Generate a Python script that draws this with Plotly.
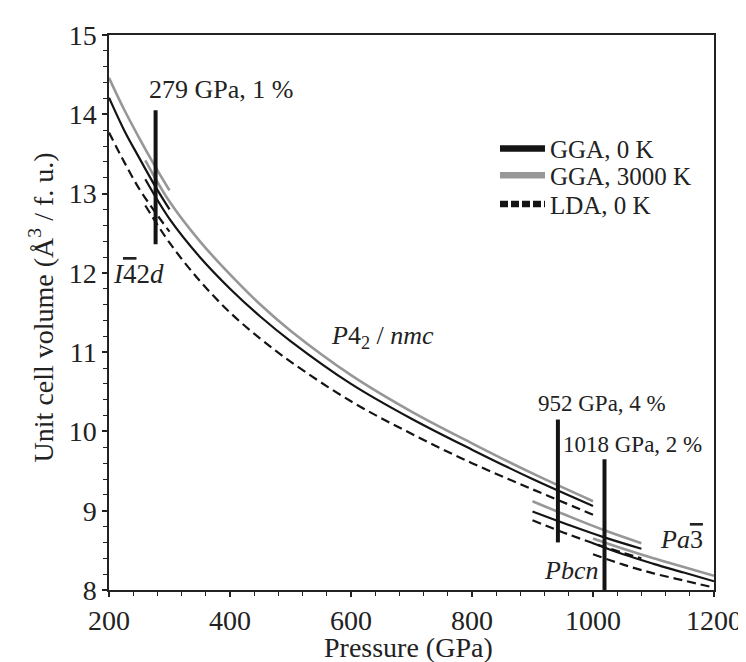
import plotly.graph_objects as go

# --- data (pressure in GPa, volume in A^3 / f.u.) ---
p_i42d = [200, 225, 250, 275, 300]
v_i42d_gga0 = [14.21, 13.80, 13.45, 13.11, 12.80]
v_i42d_gga3000 = [14.46, 14.06, 13.70, 13.36, 13.04]
v_i42d_lda0 = [13.77, 13.40, 13.06, 12.78, 12.52]

p_p42 = [260, 300, 350, 400, 450, 500, 600, 700, 800, 900, 1000]
v_p42_gga0 = [13.18, 12.68, 12.20, 11.80, 11.45, 11.14, 10.60, 10.16, 9.77, 9.40, 9.06]
v_p42_gga3000 = [13.42, 12.90, 12.40, 11.98, 11.60, 11.27, 10.71, 10.25, 9.85, 9.47, 9.12]
v_p42_lda0 = [12.85, 12.38, 11.90, 11.50, 11.17, 10.88, 10.38, 9.97, 9.60, 9.27, 8.95]

p_pbcn = [900, 960, 1020, 1080]
v_pbcn_gga0 = [8.99, 8.82, 8.66, 8.52]
v_pbcn_gga3000 = [9.12, 8.93, 8.75, 8.59]
v_pbcn_lda0 = [8.88, 8.70, 8.54, 8.40]

p_pa3 = [1000, 1050, 1100, 1150, 1200]
v_pa3_gga0 = [8.59, 8.45, 8.33, 8.22, 8.11]
v_pa3_gga3000 = [8.65, 8.52, 8.40, 8.29, 8.18]
v_pa3_lda0 = [8.45, 8.32, 8.21, 8.12, 8.03]

# transition markers: position, bottom, top, label
trans_p = [277, 942, 1019]
trans_vlo = [12.36, 8.60, 8.00]
trans_vhi = [14.05, 10.15, 9.65]
trans_labels = ["279 GPa, 1 %", "952 GPa, 4 %", "1018 GPa, 2 %"]
trans_label_p = [385, 1015, 1066]
trans_label_v = [14.31, 10.35, 9.83]
trans_label_size = [26, 23, 23]

phase_labels = ["<i>I</i><span style='text-decoration:overline'>4</span>2<i>d</i>",
                "<i>P</i>4<sub>2</sub> / <i>nmc</i>",
                "<i>Pbcn</i>",
                "<i>Pa</i><span style='text-decoration:overline'>3</span>"]
phase_p = [200, 652, 964, 1146]
phase_v = [11.98, 11.19, 8.24, 8.64]

series_names = ["GGA, 0 K", "GGA, 3000 K", "LDA, 0 K"]
legend_rows_y = [0.795, 0.747, 0.695]

BLACK = "#141414"
GRAY = "#979797"
TXT = "#222222"
FONT = "Liberation Serif"

styles = [dict(color=BLACK, width=2.2),
          dict(color=GRAY, width=2.6),
          dict(color=BLACK, width=2.2, dash="9px,5px")]

fig = go.Figure()

phases = [
    (p_i42d, [v_i42d_gga0, v_i42d_gga3000, v_i42d_lda0]),
    (p_p42, [v_p42_gga0, v_p42_gga3000, v_p42_lda0]),
    (p_pbcn, [v_pbcn_gga0, v_pbcn_gga3000, v_pbcn_lda0]),
    (p_pa3, [v_pa3_gga0, v_pa3_gga3000, v_pa3_lda0]),
]
for p, vs in phases:
    for i, v in enumerate(vs):
        fig.add_trace(go.Scatter(x=p, y=v, mode="lines", line=dict(shape="spline", **styles[i]),
                                 showlegend=False, hoverinfo="skip"))

# legend entries (thick sample lines), one legend per row
legend_ids = ["legend", "legend2", "legend3"]
for i, name in enumerate(series_names):
    st = dict(styles[i])
    st["width"] = 6.5
    if "dash" in st:
        st["dash"] = "8px,3px"
    fig.add_trace(go.Scatter(x=[None], y=[None], mode="lines", name=name, line=st,
                             legend=legend_ids[i]))

# transition bars
for p, lo, hi in zip(trans_p, trans_vlo, trans_vhi):
    fig.add_trace(go.Scatter(x=[p, p], y=[lo, hi], mode="lines",
                             line=dict(color=BLACK, width=4), showlegend=False, hoverinfo="skip"))

for t, p, v, s in zip(trans_labels, trans_label_p, trans_label_v, trans_label_size):
    fig.add_annotation(x=p, y=v, text=t, showarrow=False, font=dict(size=s, color=TXT, family=FONT))

for i, (t, p, v) in enumerate(zip(phase_labels, phase_p, phase_v)):
    fig.add_annotation(x=p, y=v, text=t, showarrow=False, xanchor="left" if i == 0 else "center",
                       xshift=2 if i == 0 else 0,
                       font=dict(size=27 if i == 0 else 26, color=TXT, family=FONT))

# axis titles as annotations
fig.add_annotation(xref="paper", yref="paper", x=-0.11, y=0.51, xanchor="center", yanchor="middle",
                   textangle=-90, showarrow=False,
                   text="Unit cell volume (Å<sup>3</sup> / f. u.)",
                   font=dict(size=28, color=TXT, family=FONT))
fig.add_annotation(xref="paper", yref="paper", x=0.495, y=-0.104, xanchor="center", yanchor="middle",
                   showarrow=False, text="Pressure (GPa)", borderpad=0,
                   font=dict(size=28, color=TXT, family=FONT))

axis_common = dict(showline=True, linecolor=TXT, linewidth=1.5, mirror=True, ticks="outside",
                   tickcolor=TXT, tickwidth=1.5, showgrid=False, zeroline=False, ticklen=5,
                   tickfont=dict(size=28, color=TXT, family=FONT))

legend_common = dict(x=0.638, xanchor="left", yanchor="middle", bgcolor="rgba(0,0,0,0)",
                     font=dict(size=25, family=FONT, color=TXT), itemwidth=45)

fig.update_layout(
    width=746, height=662,
    margin=dict(l=101, r=35, t=27, b=80),
    plot_bgcolor="white", paper_bgcolor="white",
    font=dict(family=FONT, color=TXT),
    xaxis=dict(range=[200, 1200], dtick=200,
               minor=dict(dtick=40, ticks="outside", ticklen=4, tickcolor=TXT, tickwidth=1.2),
               **axis_common),
    yaxis=dict(range=[8, 15], dtick=1,
               minor=dict(dtick=0.2, ticks="outside", ticklen=4, tickcolor=TXT, tickwidth=1.2),
               **axis_common),
    legend=dict(y=legend_rows_y[0], **legend_common),
    legend2=dict(y=legend_rows_y[1], **legend_common),
    legend3=dict(y=legend_rows_y[2], **legend_common),
)

fig.write_html("out.html")
